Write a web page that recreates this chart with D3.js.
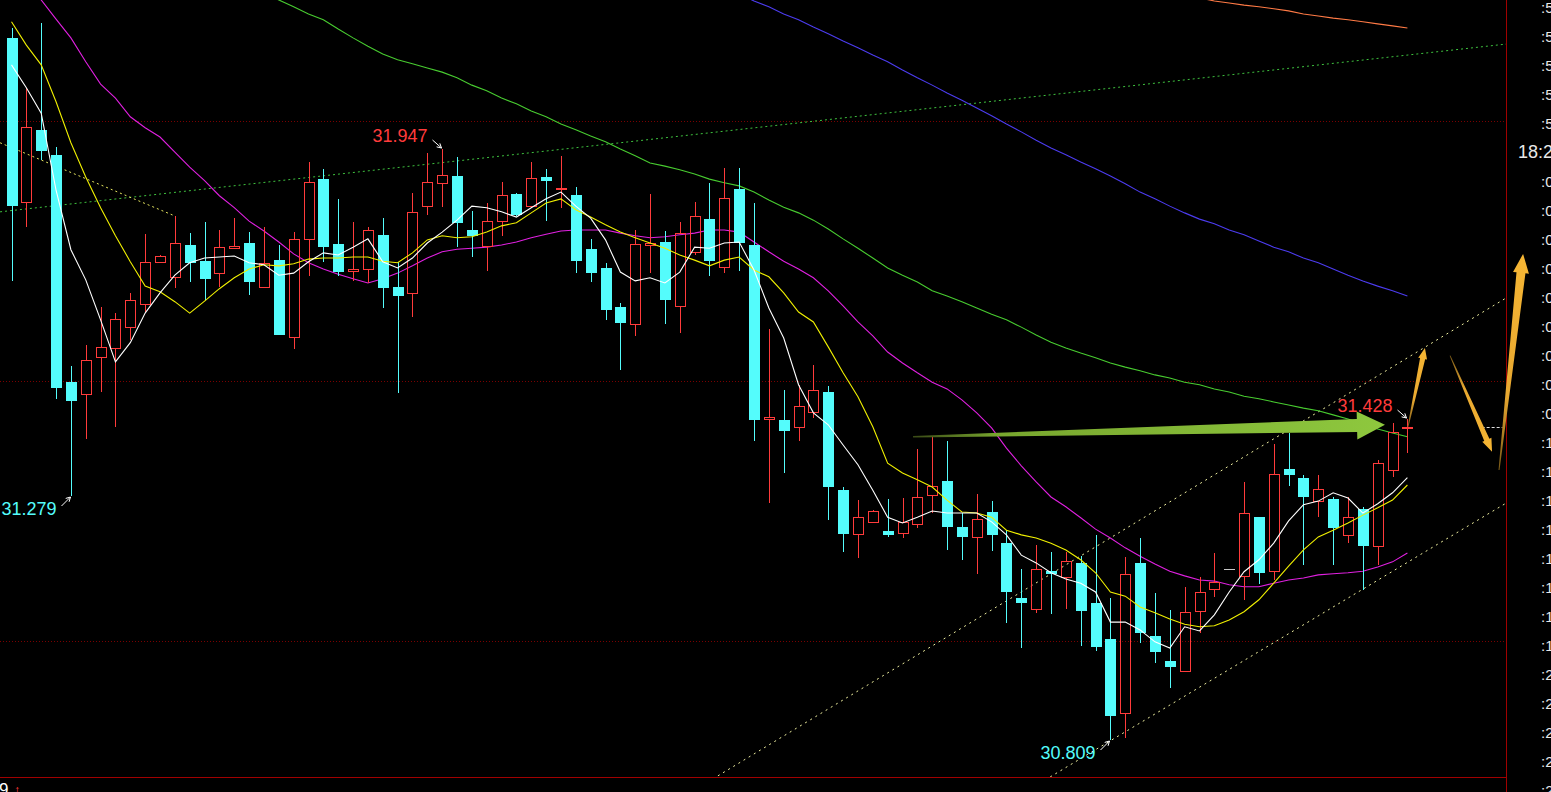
<!DOCTYPE html>
<html><head><meta charset="utf-8">
<script src="https://cdn.jsdelivr.net/npm/d3@7"></script>
<style>html,body{margin:0;padding:0;background:#000;overflow:hidden}svg{display:block}</style>
</head><body><svg id="c" width="1551" height="792"></svg>
<script>
// ---------- DATA ----------
const opens = [32.161,31.845,31.984,31.936,31.498,31.475,31.547,31.564,31.604,31.649,
31.730,31.701,31.762,31.731,31.708,31.756,31.766,31.681,31.733,31.585,
31.774,31.889,31.764,31.712,31.716,31.782,31.681,31.670,31.837,31.882,
31.895,31.791,31.760,31.808,31.860,31.837,31.893,31.870,31.859,31.754,
31.718,31.643,31.610,31.762,31.768,31.645,31.749,31.812,31.720,31.870,
31.762,31.427,31.425,31.412,31.441,31.479,31.290,31.206,31.229,31.212,
31.208,31.225,31.281,31.308,31.219,31.200,31.248,31.188,31.082,31.061,
31.134,31.123,31.150,31.073,31.003,30.861,31.150,31.009,30.961,30.942,
31.057,31.100,31.138,31.125,31.238,31.134,31.331,31.314,31.269,31.273,
31.204,31.254,31.183,31.329,31.410];
const highs = [32.180,32.065,32.190,31.951,31.529,31.570,31.643,31.631,31.670,31.783,
31.743,31.818,31.785,31.806,31.791,31.814,31.787,31.797,31.762,31.787,
31.922,31.909,31.851,31.806,31.797,31.814,31.730,31.862,31.939,31.947,
31.932,31.828,31.843,31.884,31.862,31.922,31.909,31.934,31.874,31.774,
31.728,31.651,31.791,31.860,31.789,31.806,31.845,31.882,31.911,31.911,
31.843,31.600,31.483,31.493,31.531,31.491,31.296,31.271,31.252,31.273,
31.275,31.369,31.392,31.385,31.246,31.283,31.269,31.213,31.138,31.185,
31.171,31.171,31.163,31.204,31.082,31.161,31.198,31.092,31.059,31.104,
31.123,31.169,31.138,31.306,31.238,31.379,31.400,31.319,31.319,31.277,
31.277,31.258,31.348,31.420,31.428];
const lows = [31.693,31.797,31.926,31.466,31.279,31.389,31.479,31.412,31.579,31.633,
31.728,31.679,31.691,31.656,31.681,31.754,31.666,31.679,31.589,31.562,
31.703,31.730,31.703,31.693,31.689,31.641,31.477,31.624,31.820,31.835,
31.758,31.739,31.712,31.780,31.818,31.834,31.808,31.834,31.708,31.691,
31.618,31.522,31.587,31.708,31.610,31.593,31.743,31.703,31.708,31.712,
31.385,31.265,31.323,31.385,31.429,31.233,31.171,31.160,31.229,31.200,
31.198,31.217,31.246,31.175,31.156,31.129,31.173,31.034,30.986,31.054,
31.052,31.061,30.990,30.980,30.809,30.813,30.996,30.957,30.909,30.942,
31.015,31.084,31.138,31.079,31.109,31.117,31.298,31.146,31.238,31.146,
31.188,31.098,31.146,31.316,31.362];
const closes = [31.837,31.989,31.943,31.487,31.462,31.541,31.566,31.620,31.656,31.730,
31.741,31.766,31.728,31.697,31.758,31.760,31.691,31.728,31.589,31.774,
31.884,31.758,31.710,31.716,31.791,31.679,31.664,31.826,31.884,31.897,
31.805,31.780,31.808,31.859,31.820,31.891,31.886,31.872,31.731,31.708,
31.637,31.612,31.764,31.766,31.656,31.785,31.818,31.731,31.853,31.766,
31.425,31.431,31.404,31.452,31.483,31.296,31.206,31.238,31.250,31.204,
31.229,31.277,31.298,31.219,31.200,31.235,31.204,31.094,31.073,31.138,
31.129,31.154,31.057,30.988,30.855,31.129,31.015,30.979,30.950,31.056,
31.094,31.113,31.138,31.246,31.131,31.321,31.319,31.277,31.292,31.217,
31.238,31.183,31.342,31.402,31.411];

const ma5 = [32.109,32.065,32.016,31.868,31.753,31.695,31.618,31.537,31.574,31.631,
31.670,31.704,31.728,31.737,31.739,31.741,31.728,31.724,31.704,31.708,
31.730,31.747,31.743,31.758,31.774,31.730,31.718,31.737,31.766,31.787,
31.810,31.837,31.834,31.826,31.816,31.834,31.851,31.864,31.837,31.814,
31.772,31.710,31.693,31.699,31.689,31.710,31.758,31.756,31.766,31.768,
31.714,31.641,31.583,31.493,31.439,31.416,31.377,31.339,31.290,31.238,
31.227,31.238,31.250,31.246,31.246,31.246,31.229,31.204,31.165,31.150,
31.131,31.119,31.111,31.094,31.036,31.036,31.021,30.998,30.986,31.027,
31.019,31.050,31.094,31.133,31.156,31.188,31.231,31.262,31.269,31.285,
31.275,31.246,31.264,31.285,31.314];
const ma10 = [32.192,32.147,32.109,32.038,31.959,31.893,31.834,31.780,31.730,31.683,
31.672,31.653,31.631,31.654,31.678,31.699,31.716,31.724,31.722,31.726,
31.735,31.737,31.737,31.739,31.739,31.731,31.728,31.747,31.772,31.780,
31.776,31.778,31.787,31.799,31.805,31.824,31.843,31.851,31.830,31.816,
31.801,31.787,31.776,31.766,31.756,31.743,31.733,31.722,31.733,31.739,
31.714,31.701,31.670,31.633,31.614,31.566,31.516,31.470,31.412,31.342,
31.323,31.310,31.296,31.271,31.248,31.246,31.238,31.213,31.204,31.198,
31.188,31.175,31.156,31.131,31.094,31.086,31.065,31.054,31.042,31.032,
31.027,31.029,31.040,31.056,31.079,31.111,31.144,31.175,31.200,31.213,
31.227,31.242,31.256,31.271,31.300];
const ma20 = [32.311,32.273,32.234,32.197,32.161,32.115,32.072,32.045,32.009,31.988,
31.970,31.941,31.912,31.886,31.857,31.834,31.808,31.789,31.768,31.745,
31.728,31.716,31.706,31.697,31.689,31.697,31.708,31.722,31.737,31.749,
31.754,31.756,31.758,31.762,31.768,31.776,31.783,31.789,31.791,31.791,
31.791,31.785,31.780,31.776,31.778,31.782,31.785,31.791,31.791,31.787,
31.768,31.749,31.731,31.716,31.699,31.674,31.645,31.614,31.587,31.556,
31.535,31.516,31.498,31.485,31.464,31.439,31.410,31.371,31.337,31.306,
31.277,31.258,31.237,31.215,31.198,31.179,31.163,31.148,31.134,31.125,
31.117,31.115,31.108,31.104,31.104,31.111,31.117,31.121,31.127,31.129,
31.131,31.134,31.142,31.152,31.169];
const ma60Start = 17;
const ma60 = [32.247,32.234,32.221,32.207,32.196,32.178,32.161,32.145,32.130,32.119,32.111,
32.103,32.095,32.084,32.070,32.059,32.045,32.034,32.020,32.009,31.995,
31.984,31.972,31.961,31.947,31.934,31.920,31.914,31.907,31.899,31.889,
31.882,31.876,31.864,31.849,31.835,31.824,31.810,31.793,31.774,31.756,
31.737,31.718,31.704,31.691,31.674,31.664,31.653,31.641,31.629,31.618,
31.604,31.589,31.575,31.564,31.554,31.545,31.535,31.527,31.520,31.512,
31.506,31.498,31.493,31.485,31.479,31.471,31.466,31.460,31.454,31.448,
31.443,31.435,31.427,31.418,31.408,31.400,31.393];
const ma120Start = 49;
const ma120 = [32.246,32.232,32.221,32.207,32.196,32.182,32.169,32.155,32.142,32.128,32.115,
32.099,32.084,32.070,32.055,32.041,32.026,32.011,31.995,31.980,31.964,
31.949,31.936,31.922,31.909,31.895,31.880,31.864,31.851,31.837,31.824,
31.812,31.803,31.791,31.782,31.770,31.758,31.749,31.737,31.728,31.716,
31.704,31.693,31.683,31.674,31.664];
const ma250Start = 80;
const ma250 = [32.238,32.232,32.228,32.224,32.221,32.217,32.213,32.207,32.203,32.199,32.196,32.192,32.188,32.184,32.180];

const gridLevels = [32.0, 31.5, 31.0];
// trend lines: [index, price] endpoints
const greenDotted = [[-0.77,31.826],[100.64,32.149]];
const yellowDotted = [[-0.77,31.959],[11.0,31.818]];
const channelUpper = [[47.57,30.740],[100.64,31.660]];
const channelLower = [[69.6,30.732],[100.64,31.265]];
const lastPriceSpan = [99.0, 100.4];
// drawn arrows: [index, price] start -> tip
const greenArrow = [[60.71,31.393],[92.49,31.416]];
const orangeArrows = [
  [[94.04,31.412],[95.18,31.564]],
  [[96.87,31.549],[99.70,31.364]],
  [[100.17,31.329],[101.79,31.745]]
];
// extreme labels: candle index and which extreme
const markIdx = [29, 4, 74, 94];
const markKind = ['high','low','low','high'];
// right-hand time labels (clipped by the window edge, as in the reference)
const rightLabels = [':5',':5',':5',':5',':5','18:2',':0',':0',':0',':0',':0',':0',':0',':0',':0',
  ':1',':1',':1',':1',':1',':1',':1',':1',':2',':2',':2',':2',':2'];

// ---------- DRAW ----------
const W = 1551, H = 792, plotR = 1506, plotB = 777;
const RED = '#ff3b3b', CYAN = '#54fcfc';
const FONT = "'Liberation Sans', Arial, sans-serif";
const svg = d3.select('#c');
const x = d3.scaleLinear().domain([0, 94]).range([11.5, 1407.4]);
const y = d3.scaleLinear().domain([30.809, 31.947]).range([740, 149]);

svg.append('rect').attr('width', W).attr('height', H).attr('fill', '#000');
const defs = svg.append('defs');
defs.append('clipPath').attr('id', 'plot').append('rect')
  .attr('x', 0).attr('y', 0).attr('width', plotR).attr('height', plotB);

// grid
svg.append('g').selectAll('line').data(gridLevels).join('line')
  .attr('x1', 0).attr('x2', plotR)
  .attr('y1', d => Math.round(y(d)) + 0.5).attr('y2', d => Math.round(y(d)) + 0.5)
  .attr('stroke', '#7a0000').attr('stroke-dasharray', '1,2').attr('stroke-width', 1);

const plot = svg.append('g').attr('clip-path', 'url(#plot)');
const seg = d3.line().x(d => x(d[0])).y(d => y(d[1]));

// dotted trend lines
plot.append('path').attr('d', seg(greenDotted)).attr('fill', 'none')
  .attr('stroke', '#3fc23f').attr('stroke-width', 1).attr('stroke-dasharray', '2,3');
plot.append('path').attr('d', seg(yellowDotted)).attr('fill', 'none')
  .attr('stroke', '#e8e860').attr('stroke-width', 1).attr('stroke-dasharray', '2,3');
[channelUpper, channelLower].forEach(l => plot.append('path').attr('d', seg(l)).attr('fill', 'none')
  .attr('stroke', '#f0f0a0').attr('stroke-width', 1).attr('stroke-dasharray', '2,4'));

// moving averages
function maLine(arr, start, color) {
  const pts = arr.map((v, k) => [start + k, v]);
  plot.append('path').attr('d', seg(pts)).attr('fill', 'none')
    .attr('stroke', color).attr('stroke-width', 1.1);
}
maLine(ma250, ma250Start, '#ff7a45');
maLine(ma120, ma120Start, '#4c3cf0');
maLine(ma60, ma60Start, '#48cc30');
maLine(ma20, 0, '#e020e0');

// candles
const candles = opens.map((o, i) => ({ i, o, h: highs[i], l: lows[i], c: closes[i] }));
const cg = plot.append('g');
candles.forEach(d => {
  const cx = Math.round(x(d.i));
  const wx = cx + 0.5;
  const top = Math.round(y(Math.max(d.o, d.c)));
  const bot = Math.round(y(Math.min(d.o, d.c)));
  const yh = Math.round(y(d.h)), yl = Math.round(y(d.l));
  if (d.c < d.o) {
    cg.append('line').attr('x1', wx).attr('x2', wx).attr('y1', yh).attr('y2', yl).attr('stroke', CYAN);
    cg.append('rect').attr('x', cx - 5).attr('width', 11).attr('y', top).attr('height', Math.max(2, bot - top)).attr('fill', CYAN);
  } else if (d.c > d.o) {
    const h = Math.max(1, bot - top);
    cg.append('line').attr('x1', wx).attr('x2', wx).attr('y1', yh).attr('y2', top).attr('stroke', RED);
    cg.append('line').attr('x1', wx).attr('x2', wx).attr('y1', top + h).attr('y2', yl).attr('stroke', RED);
    cg.append('rect').attr('x', cx - 4.5).attr('width', 10).attr('y', top + 0.5).attr('height', h)
      .attr('fill', 'none').attr('stroke', RED);
  } else {
    cg.append('line').attr('x1', wx).attr('x2', wx).attr('y1', yh).attr('y2', yl).attr('stroke', '#c8c8c8');
    cg.append('line').attr('x1', cx - 5).attr('x2', cx + 6).attr('y1', top + 0.5).attr('y2', top + 0.5).attr('stroke', '#c8c8c8');
  }
});

maLine(ma10, 0, '#f0f000');
maLine(ma5, 0, '#ffffff');

// last price dashed marker
svg.append('line').attr('x1', x(lastPriceSpan[0])).attr('x2', x(lastPriceSpan[1]))
  .attr('y1', Math.round(y(closes[closes.length - 1])) + 0.5).attr('y2', Math.round(y(closes[closes.length - 1])) + 0.5)
  .attr('stroke', '#e0e0e0').attr('stroke-dasharray', '3,2');

// frame
svg.append('line').attr('x1', 0).attr('x2', plotR + 0.5).attr('y1', plotB + 0.5).attr('y2', plotB + 0.5).attr('stroke', '#a00000');
svg.append('line').attr('x1', plotR + 0.5).attr('x2', plotR + 0.5).attr('y1', 0).attr('y2', H).attr('stroke', '#a00000');

// tapered arrows
function arrowPoly(p0, p1, w0, w1, hw, hl) {
  const x0 = x(p0[0]), y0 = y(p0[1]), x1 = x(p1[0]), y1 = y(p1[1]);
  const len = Math.hypot(x1 - x0, y1 - y0);
  const ux = (x1 - x0) / len, uy = (y1 - y0) / len, nx = -uy, ny = ux;
  const bx = x1 - ux * hl, by = y1 - uy * hl;
  return [[x0 + nx * w0, y0 + ny * w0], [bx + nx * w1, by + ny * w1], [bx + nx * hw, by + ny * hw], [x1, y1],
          [bx - nx * hw, by - ny * hw], [bx - nx * w1, by - ny * w1], [x0 - nx * w0, y0 - ny * w0]];
}
const gg = defs.append('linearGradient').attr('id', 'ga').attr('gradientUnits', 'userSpaceOnUse')
  .attr('x1', x(greenArrow[0][0])).attr('x2', x(greenArrow[1][0])).attr('y1', 0).attr('y2', 0);
gg.append('stop').attr('offset', 0).attr('stop-color', '#3a4a16');
gg.append('stop').attr('offset', 0.18).attr('stop-color', '#78a62e');
gg.append('stop').attr('offset', 1).attr('stop-color', '#8ec83e');
svg.append('polygon').attr('points', arrowPoly(greenArrow[0], greenArrow[1], 0.8, 6.5, 14, 28).join(' '))
  .attr('fill', 'url(#ga)');

const oSizes = [[0.4, 2.6, 4.5, 11], [0.4, 2.8, 5, 13], [0.5, 4.5, 8, 19]];
orangeArrows.forEach((a, k) => {
  const id = 'og' + k;
  const g = defs.append('linearGradient').attr('id', id).attr('gradientUnits', 'userSpaceOnUse')
    .attr('x1', x(a[0][0])).attr('y1', y(a[0][1])).attr('x2', x(a[1][0])).attr('y2', y(a[1][1]));
  g.append('stop').attr('offset', 0).attr('stop-color', '#7a5a18');
  g.append('stop').attr('offset', 0.35).attr('stop-color', '#e8a830');
  g.append('stop').attr('offset', 1).attr('stop-color', '#f6b634');
  const s = oSizes[k];
  svg.append('polygon').attr('points', arrowPoly(a[0], a[1], s[0], s[1], s[2], s[3]).join(' '))
    .attr('fill', 'url(#' + id + ')');
});

// extreme labels
markIdx.forEach((i, k) => {
  const hi = markKind[k] === 'high';
  const v = hi ? highs[i] : lows[i];
  const px = Math.round(x(i)) + 0.5, py = Math.round(y(v));
  svg.append('text').attr('x', px - 15).attr('y', hi ? py - 7 : py + 19)
    .attr('text-anchor', 'end').attr('font-family', FONT).attr('font-size', 18)
    .attr('fill', hi ? RED : CYAN).text(v.toFixed(3));
  const sx = px - 10, sy = hi ? py - 9 : py + 10, tx = px - 1, ty = hi ? py - 1 : py + 1;
  const ang = Math.atan2(ty - sy, tx - sx);
  const hd = 5;
  const path = `M${sx},${sy}L${tx},${ty}M${tx - hd * Math.cos(ang - 0.5)},${ty - hd * Math.sin(ang - 0.5)}L${tx},${ty}L${tx - hd * Math.cos(ang + 0.5)},${ty - hd * Math.sin(ang + 0.5)}`;
  svg.append('path').attr('d', path).attr('fill', 'none').attr('stroke', '#ffffff').attr('stroke-width', 1);
});

// right labels
svg.append('g').selectAll('text').data(rightLabels).join('text')
  .attr('x', d => d.length > 2 ? 1518 : 1541)
  .attr('y', (d, k) => 152 + 29 * (k - 5))
  .attr('dominant-baseline', 'central')
  .attr('font-family', FONT).attr('font-size', d => d.length > 2 ? 18 : 15)
  .attr('fill', '#e8e8e8').text(d => d);

// bottom-left fragment
svg.append('text').attr('x', -1).attr('y', 795).attr('font-family', FONT).attr('font-size', 17)
  .attr('fill', '#ffffff').text('9');
svg.append('text').attr('x', 14).attr('y', 794).attr('font-family', FONT).attr('font-size', 13)
  .attr('fill', RED).text('↑');
</script></body></html>
